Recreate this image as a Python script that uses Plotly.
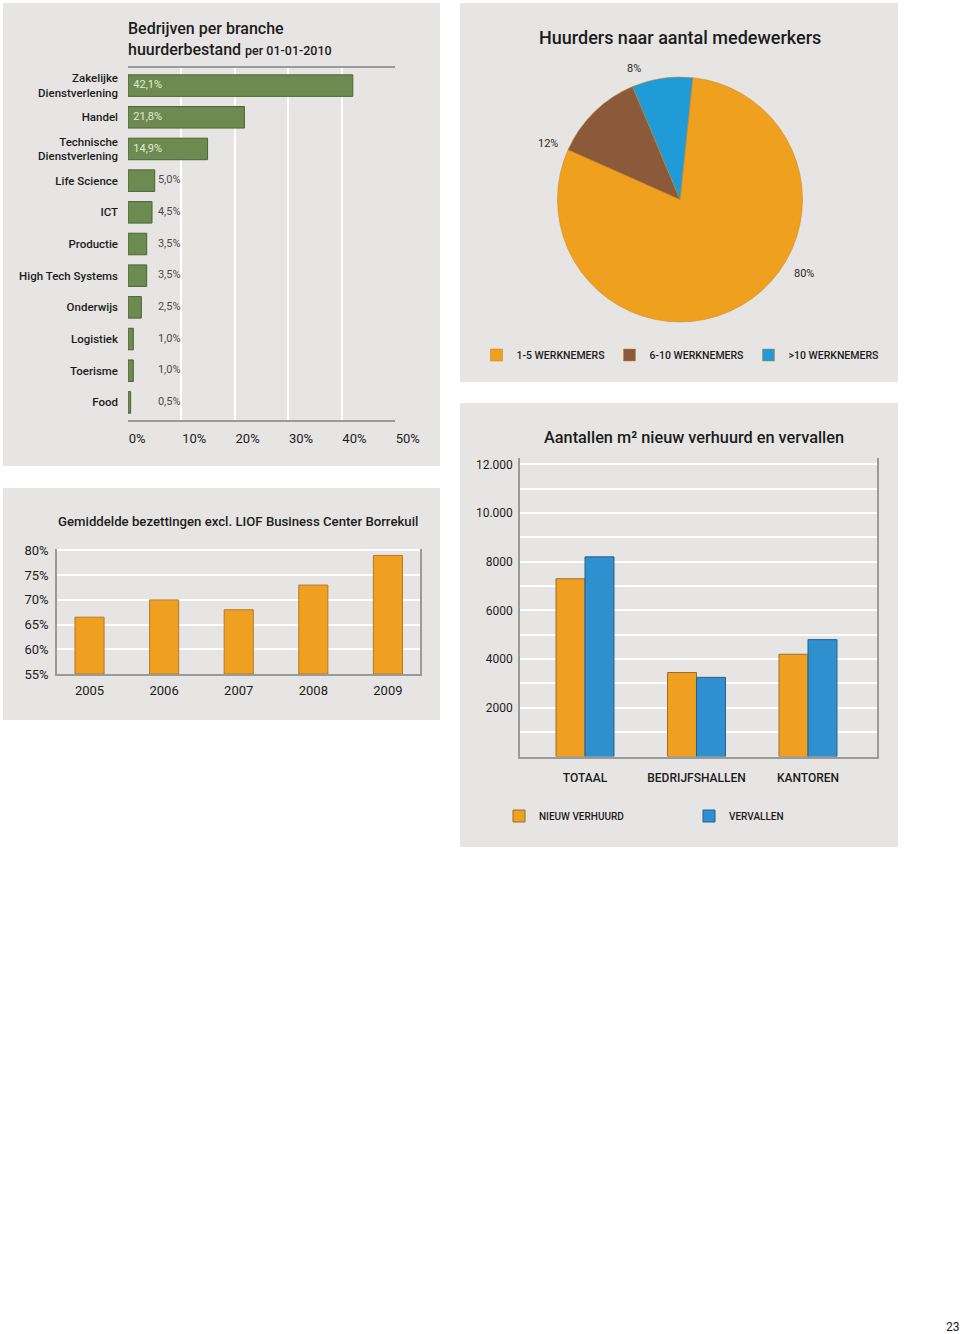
import plotly.graph_objects as go

W, H = 960, 1334


def px(x):
    return x / W


def py(y):
    return 1 - y / H


FONT = "Roboto, Lato, sans-serif"
DARK = "#1c1c1c"
PANEL = "#e6e5e3"
GRID = "#ffffff"
FRAME = "#9a9a98"

# ---------------- data ----------------
# Panel A: Bedrijven per branche
branches = ["Zakelijke<br>Dienstverlening", "Handel", "Technische<br>Dienstverlening",
            "Life Science", "ICT", "Productie", "High Tech Systems", "Onderwijs",
            "Logistiek", "Toerisme", "Food"]
branche_pct = [42.1, 21.8, 14.9, 5.0, 4.5, 3.5, 3.5, 2.5, 1.0, 1.0, 0.5]
pct_tickvals = [0, 10, 20, 30, 40, 50]
pct_ticktext = ["0%", "10%", "20%", "30%", "40%", "50%"]

# Panel B: Huurders naar aantal medewerkers
size_labels = ["1-5 WERKNEMERS", "6-10 WERKNEMERS", ">10 WERKNEMERS"]
size_pct = [80, 12, 8]
size_text = ["80%", "12%", "8%"]

# Panel C: Gemiddelde bezettingen
years = ["2005", "2006", "2007", "2008", "2009"]
occupancy = [66.5, 70.0, 68.0, 73.0, 79.0]
occ_tickvals = [55, 60, 65, 70, 75, 80]
occ_ticktext = ["55%", "60%", "65%", "70%", "75%", "80%"]

# Panel D: Aantallen m2 nieuw verhuurd en vervallen
m2_cats = ["TOTAAL", "BEDRIJFSHALLEN", "KANTOREN"]
m2_new = [7300, 3450, 4200]
m2_expired = [8200, 3250, 4800]
m2_tickvals = [1000, 2000, 3000, 4000, 5000, 6000, 7000, 8000, 9000, 10000, 11000, 12000]
m2_ticktext = ["", "2000", "", "4000", "", "6000", "", "8000", "", "10.000", "", "12.000"]


def nl_pct(v):
    return f"{v:.1f}%".replace(".", ",")


fig = go.Figure()

# ---------------- Panel A ----------------
fig.add_trace(go.Bar(
    x=branche_pct, y=branches, orientation="h",
    marker=dict(color="#6d8a50", line=dict(color="#4a6538", width=1)),
    width=0.68, xaxis="x", yaxis="y", showlegend=False, hoverinfo="x+y",
))
label_x = [1.0 if v >= 10 else 5.6 for v in branche_pct]
label_col = ["#e4ead6" if v >= 10 else "#4a4a4a" for v in branche_pct]
fig.add_trace(go.Scatter(
    x=label_x, y=branches, mode="text", text=[nl_pct(v) for v in branche_pct],
    textposition="middle right", textfont=dict(family=FONT, size=11, color=label_col),
    xaxis="x", yaxis="y", showlegend=False, hoverinfo="skip",
))

# ---------------- Panel B ----------------
fig.add_trace(go.Pie(
    labels=size_labels, values=size_pct, text=size_text,
    marker=dict(colors=["#f0a01f", "#8a5a3a", "#1f9bd8"], line=dict(color="#c98318", width=0.5)),
    sort=False, direction="clockwise", rotation=6, textinfo="none",
    domain=dict(x=[px(557), px(803)], y=[py(322), py(77)]),
    legend="legend", showlegend=True, hoverinfo="label+percent",
))

# ---------------- Panel C ----------------
fig.add_trace(go.Bar(
    x=years, y=[v - 55 for v in occupancy], base=55,
    marker=dict(color="#f0a020", line=dict(color="#b5782a", width=1)),
    width=0.39, xaxis="x2", yaxis="y2", showlegend=False,
))

# ---------------- Panel D ----------------
fig.add_trace(go.Bar(
    x=m2_cats, y=m2_new, name="NIEUW VERHUURD",
    marker=dict(color="#f0a020", line=dict(color="#9c6d2e", width=1)),
    width=0.26, offset=-0.26, xaxis="x3", yaxis="y3", legend="legend2",
))
fig.add_trace(go.Bar(
    x=m2_cats, y=m2_expired, name="VERVALLEN",
    marker=dict(color="#2f8fcf", line=dict(color="#22628f", width=1)),
    width=0.26, offset=0.0, xaxis="x3", yaxis="y3", legend="legend2",
))

# ---------------- panels (backgrounds) ----------------
shapes = []
for (x0, y0, x1, y1) in [(3, 3, 440, 466), (460, 3, 898, 382), (3, 488, 440, 720), (460, 403, 898, 847)]:
    shapes.append(dict(type="rect", xref="paper", yref="paper", x0=px(x0), x1=px(x1),
                       y0=py(y1), y1=py(y0), fillcolor=PANEL, line=dict(width=0), layer="below"))

axis_font = dict(family=FONT, size=13, color=DARK)


def ann(text, x, y, xanchor="center", yanchor="middle", **kw):
    d = dict(text=text, x=px(x), y=py(y), xref="paper", yref="paper", xanchor=xanchor,
             yanchor=yanchor, showarrow=False)
    d.update(kw)
    return d


annotations = [
    ann("Bedrijven per branche<br>huurderbestand <span style='font-size:12.5px'>per 01-01-2010</span>",
        126, 17, xanchor="left", yanchor="top", align="left",
        font=dict(family=FONT, size=16, color=DARK, weight=500)),
    ann("Huurders naar aantal medewerkers", 680, 37,
        font=dict(family=FONT, size=18, color=DARK, weight=500)),
    ann("Gemiddelde bezettingen excl. LIOF Business Center Borrekuil", 56, 521, xanchor="left",
        font=dict(family=FONT, size=13.2, color=DARK, weight=500)),
    ann("Aantallen m² nieuw verhuurd en vervallen", 694, 437,
        font=dict(family=FONT, size=16.3, color=DARK, weight=500)),
    ann("23", 953, 1327, font=dict(family=FONT, size=12, color=DARK)),
]
# pie percentage labels
for t, (lx, ly) in zip(size_text, [(804, 273), (548, 143), (634, 68)]):
    annotations.append(ann(t, lx, ly, font=dict(family=FONT, size=11, color="#2a2a2a")))

fig.update_layout(
    width=W, height=H, margin=dict(l=0, r=0, t=0, b=0, autoexpand=False),
    paper_bgcolor="#ffffff", plot_bgcolor="rgba(0,0,0,0)",
    font=dict(family=FONT, color=DARK),
    shapes=shapes, annotations=annotations,
    barmode="overlay",
    xaxis=dict(domain=[px(128), px(395)], range=[0, 50], tickvals=pct_tickvals, ticktext=pct_ticktext,
               showgrid=True, gridcolor=GRID, gridwidth=1.5, showline=True, linecolor=FRAME,
               linewidth=1.5, mirror=True, zeroline=False, tickfont=axis_font,
               ticklabelposition="outside right", ticks="", ticklabelstandoff=6, fixedrange=True),
    yaxis=dict(domain=[py(420), py(68)], anchor="x", autorange="reversed", showgrid=False,
               showline=False, tickfont=dict(family=FONT, size=11.5, color=DARK, weight=500),
               ticks="", ticklabelstandoff=9, fixedrange=True),
    xaxis2=dict(domain=[px(57), px(420)], anchor="y2", range=[-0.436, 4.43], showgrid=False,
                showline=True, linecolor=FRAME, linewidth=1.5, ticks="", tickfont=axis_font,
                ticklabelstandoff=4, fixedrange=True),
    yaxis2=dict(domain=[py(674), py(549)], anchor="x2", range=[55, 80.3], tickvals=occ_tickvals,
                ticktext=occ_ticktext, showgrid=True, gridcolor=GRID, gridwidth=1.5, showline=True,
                linecolor=FRAME, linewidth=1.5, mirror=True, zeroline=False, ticks="",
                tickfont=axis_font, ticklabelstandoff=4, fixedrange=True),
    xaxis3=dict(domain=[px(520), px(877)], anchor="y3", range=[-0.583, 2.619], showgrid=False,
                showline=True, linecolor=FRAME, linewidth=1.5, ticks="",
                tickfont=dict(family=FONT, size=12, color=DARK, weight=500),
                ticklabelstandoff=9, fixedrange=True),
    yaxis3=dict(domain=[py(756.5), py(458)], anchor="x3", range=[0, 12260], tickvals=m2_tickvals,
                ticktext=m2_ticktext, showgrid=True, gridcolor=GRID, gridwidth=1.5, showline=True,
                linecolor=FRAME, linewidth=1.5, mirror=True, zeroline=False, ticks="",
                tickfont=dict(family=FONT, size=12, color=DARK), ticklabelstandoff=3,
                fixedrange=True),
    legend=dict(x=px(680), y=py(355), xanchor="center", yanchor="middle", orientation="h",
                font=dict(family=FONT, size=10.5, color=DARK, weight=500), bgcolor="rgba(0,0,0,0)",
                itemwidth=30, traceorder="normal"),
    legend2=dict(x=px(499), y=py(816), xanchor="left", yanchor="middle", orientation="h",
                 font=dict(family=FONT, size=10, color=DARK, weight=500), bgcolor="rgba(0,0,0,0)",
                 itemwidth=30, traceorder="normal", entrywidth=145, entrywidthmode="pixels"),
)

fig.write_html(
    "out.html",
    config={"responsive": False, "displayModeBar": False},
    post_script="document.documentElement.style.margin='0';document.body.style.margin='0';"
                "document.body.style.padding='0';document.body.style.overflow='hidden';",
)
